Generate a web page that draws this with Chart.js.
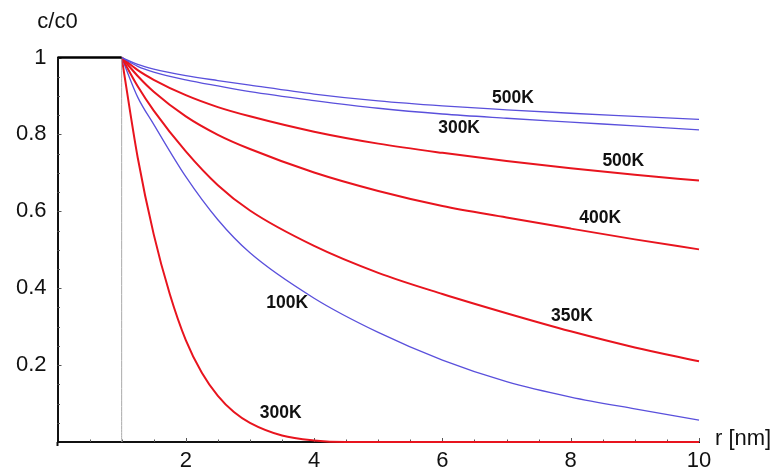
<!DOCTYPE html>
<html>
<head>
<meta charset="utf-8">
<script src="https://cdn.jsdelivr.net/npm/chart.js@4.4.1/dist/chart.umd.min.js"></script>
<style>
  html, body { margin: 0; padding: 0; background: #fff; }
  #wrap { width: 782px; height: 472px; position: relative; }
</style>
</head>
<body>
<div id="wrap"><canvas id="chart"></canvas></div>
<script>
// r [nm] and c/c0
const R = [1, 1.25, 1.5, 2, 2.5, 3, 4, 5, 6, 7, 8, 9, 10];
const BLUE_500K = [1, 0.982, 0.97, 0.953, 0.94, 0.928, 0.905, 0.887, 0.874, 0.864, 0.855, 0.847, 0.839];
const BLUE_300K = [1, 0.977, 0.962, 0.942, 0.926, 0.911, 0.888, 0.868, 0.853, 0.842, 0.832, 0.822, 0.812];
const RED_500K = [1, 0.967, 0.942, 0.902, 0.871, 0.847, 0.807, 0.776, 0.752, 0.731, 0.712, 0.695, 0.68];
const RED_400K = [1, 0.952, 0.911, 0.847, 0.799, 0.762, 0.701, 0.653, 0.614, 0.584, 0.555, 0.527, 0.501];
const RED_350K = [1, 0.925, 0.862, 0.756, 0.668, 0.602, 0.51, 0.44, 0.385, 0.335, 0.288, 0.246, 0.21];
const BLUE_100K = [1, 0.897, 0.826, 0.69, 0.578, 0.492, 0.374, 0.285, 0.213, 0.157, 0.117, 0.086, 0.057];

const R_RED_300K = [1, 1.25, 1.5, 1.75, 2, 2.25, 2.5, 2.75, 3, 3.5, 4, 4.5, 10];
const RED_300K = [1, 0.74, 0.54, 0.385, 0.265, 0.18, 0.12, 0.078, 0.05, 0.017, 0.004, 0, 0];

// inner region (r < 1) and boundary
const FLAT_R = [0, 1];
const FLAT_C = [1, 1];
const WALL_R = [1, 1];
const WALL_C = [0, 1];

const X_TICKS = [2, 4, 6, 8, 10];
const X_TICK_LABELS = ["2", "4", "6", "8", "10"];
const Y_TICKS = [0.2, 0.4, 0.6, 0.8, 1];
const Y_TICK_LABELS = ["0.2", "0.4", "0.6", "0.8", "1"];

const CURVE_LABELS = ["500K", "300K", "500K", "400K", "350K", "100K", "300K"];
const CURVE_LABEL_R = [7.1, 6.26, 8.82, 8.46, 8.02, 3.58, 3.48];
const CURVE_LABEL_C = [0.894, 0.817, 0.730, 0.583, 0.328, 0.361, 0.075];

const RED = "#e8141e";
const BLUE = "#5a50dc";
const FONT = "'Liberation Sans', Arial, Helvetica, sans-serif";

function pts(xs, ys) {
  return xs.map(function (x, i) { return { x: x, y: ys[i] }; });
}

function curve(xs, ys, color, width) {
  return {
    data: pts(xs, ys),
    borderColor: color,
    borderWidth: width,
    pointRadius: 0,
    fill: false,
    cubicInterpolationMode: "monotone",
    clip: false,
  };
}

const decorations = {
  id: "decorations",
  beforeDatasetsDraw: function (chart) {
    const ctx = chart.ctx;
    const xs = chart.scales.x;
    const ys = chart.scales.y;
    const area = chart.chartArea;
    ctx.save();
    ctx.strokeStyle = "#555";
    ctx.lineWidth = 1;
    ctx.beginPath();
    for (let i = 1; i <= 20; i++) {
      const px = Math.round(xs.getPixelForValue(i / 2)) + 0.5;
      const len = i % 4 === 0 ? 4 : 2.5;
      ctx.moveTo(px, area.bottom);
      ctx.lineTo(px, area.bottom - len);
    }
    for (let i = 1; i <= 20; i++) {
      const py = Math.round(ys.getPixelForValue(i / 20)) + 0.5;
      const len = i % 4 === 0 ? 4 : 2.5;
      ctx.moveTo(area.left, py);
      ctx.lineTo(area.left + len, py);
    }
    ctx.stroke();

    // y axis runs a little below the x axis
    ctx.strokeStyle = "#111";
    ctx.lineWidth = 2;
    ctx.beginPath();
    ctx.moveTo(area.left, area.bottom);
    ctx.lineTo(area.left, area.bottom + 4);
    ctx.stroke();

    ctx.fillStyle = "#111";
    ctx.font = "22px " + FONT;
    ctx.textBaseline = "middle";
    ctx.textAlign = "center";
    ctx.fillText("c/c0", area.left, 22);
    ctx.textAlign = "left";
    ctx.fillText("r [nm]", area.right + 16, area.bottom - 3);
    ctx.restore();
  },
  afterDatasetsDraw: function (chart) {
    const ctx = chart.ctx;
    const xs = chart.scales.x;
    const ys = chart.scales.y;
    ctx.save();
    ctx.fillStyle = "#111";
    ctx.font = "bold 17.5px " + FONT;
    ctx.textAlign = "center";
    ctx.textBaseline = "middle";
    CURVE_LABELS.forEach(function (t, i) {
      ctx.fillText(t, xs.getPixelForValue(CURVE_LABEL_R[i]), ys.getPixelForValue(CURVE_LABEL_C[i]));
    });
    ctx.restore();
  },
};

new Chart(document.getElementById("chart"), {
  type: "line",
  data: {
    datasets: [
      curve(FLAT_R, FLAT_C, "#000", 2.5),
      curve(WALL_R, WALL_C, "#aaa", 1),
      curve(R, BLUE_500K, BLUE, 1.3),
      curve(R, BLUE_300K, BLUE, 1.3),
      curve(R, RED_500K, RED, 2),
      curve(R, RED_400K, RED, 2),
      curve(R, RED_350K, RED, 2),
      curve(R, BLUE_100K, BLUE, 1.3),
      curve(R_RED_300K, RED_300K, RED, 2),
    ],
  },
  options: {
    responsive: true,
    maintainAspectRatio: false,
    animation: false,
    events: [],
    layout: { padding: { top: 57.5, right: 83, left: 0, bottom: 0 } },
    plugins: { legend: { display: false }, tooltip: { enabled: false } },
    scales: {
      x: {
        type: "linear",
        min: 0,
        max: 10,
        grid: { display: false, drawTicks: false, tickLength: 0 },
        border: { display: true, color: "#111", width: 2 },
        afterBuildTicks: function (s) { s.ticks = X_TICKS.map(function (v) { return { value: v }; }); },
        afterFit: function (s) { s.height = 30; },
        ticks: {
          autoSkip: false,
          maxRotation: 0,
          padding: 6,
          color: "#111",
          font: { family: FONT, size: 22 },
          callback: function (v, i) { return X_TICK_LABELS[i]; },
        },
      },
      y: {
        type: "linear",
        min: 0,
        max: 1,
        grid: { display: false, drawTicks: false, tickLength: 0 },
        border: { display: true, color: "#111", width: 2 },
        afterBuildTicks: function (s) { s.ticks = Y_TICKS.map(function (v) { return { value: v }; }); },
        afterFit: function (s) { s.width = 57.5; },
        ticks: {
          autoSkip: false,
          padding: 11,
          color: "#111",
          font: { family: FONT, size: 22 },
          callback: function (v, i) { return Y_TICK_LABELS[i]; },
        },
      },
    },
  },
  plugins: [decorations],
});
</script>
</body>
</html>
